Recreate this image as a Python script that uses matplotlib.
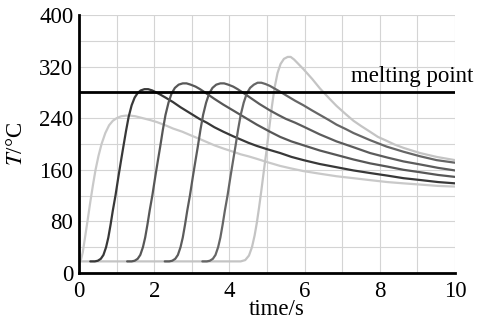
import numpy as np
import matplotlib
matplotlib.use("Agg")
import matplotlib.pyplot as plt

plt.rcParams['font.family'] = ['Liberation Serif', 'DejaVu Serif']
plt.rcParams['mathtext.fontset'] = 'stix'

# temperature curves (time in s, T in degC)
t1 = [0, 0.05, 0.1, 0.16, 0.23, 0.3, 0.37, 0.44, 0.52, 0.6, 0.7, 0.8, 0.9,
      1.0, 1.12, 1.25, 1.36, 1.5, 1.7, 1.9, 2.07, 2.3, 2.5, 2.75, 2.95, 3.2,
      3.4, 3.6, 3.84, 4.1, 4.3, 4.5, 4.73, 5.0, 5.35, 5.65, 5.97, 6.4, 6.85,
      7.3, 7.74, 8.2, 8.63, 9.1, 9.55, 10]
T1 = [18, 20, 32, 55, 82, 110, 136, 160, 182, 200, 217, 229, 236,
      240, 243, 244, 244, 243, 240, 237, 234, 229, 224, 219, 214, 208,
      203, 198, 193, 188, 184, 181, 177, 172, 166, 162, 158, 154, 150,
      147, 144, 141, 139, 137, 135, 134]

t2 = [0.3, 0.42, 0.5, 0.58, 0.65, 0.72, 0.78, 0.84, 0.9, 0.97, 1.05, 1.12,
      1.18, 1.25, 1.32, 1.4, 1.48, 1.56, 1.64, 1.74, 1.84, 1.95, 2.05, 2.15,
      2.3, 2.5, 2.7, 2.95, 3.2, 3.4, 3.6, 3.84, 4.1, 4.3, 4.5, 4.73, 5.0,
      5.35, 5.65, 5.97, 6.4, 6.85, 7.3, 7.74, 8.2, 8.63, 9.1, 9.55, 10]
T2 = [18, 18, 19, 22, 28, 40, 55, 75, 97, 120, 150, 175,
      196, 220, 242, 260, 272, 279, 283, 285, 285, 283, 280, 277,
      272, 265, 257, 248, 239, 233, 226, 219, 212, 207, 202, 197, 192,
      186, 180, 175, 169, 164, 159, 155, 151, 147, 144, 141, 139]

t3 = [1.28, 1.4, 1.48, 1.56, 1.63, 1.7, 1.76, 1.82, 1.88, 1.95, 2.03, 2.1,
      2.16, 2.23, 2.3, 2.38, 2.46, 2.55, 2.65, 2.76, 2.86, 2.97, 3.1, 3.22,
      3.4, 3.6, 3.84, 4.1, 4.3, 4.5, 4.73, 5.08, 5.35, 5.65, 5.97, 6.4,
      6.85, 7.3, 7.74, 8.2, 8.63, 9.1, 9.55, 10]
T3 = [18, 18, 19, 22, 28, 40, 55, 75, 97, 120, 150, 175,
      196, 222, 245, 264, 278, 287, 292, 294, 294, 292, 289, 285,
      278, 270, 261, 252, 245, 238, 230, 219, 211, 204, 198, 190,
      183, 176, 170, 165, 160, 156, 152, 149]

t4 = [2.28, 2.4, 2.48, 2.56, 2.63, 2.7, 2.76, 2.82, 2.88, 2.95, 3.03, 3.1,
      3.16, 3.23, 3.3, 3.38, 3.46, 3.55, 3.65, 3.76, 3.86, 3.97, 4.1, 4.22,
      4.4, 4.6, 4.8, 5.08, 5.3, 5.5, 5.75, 5.97, 6.4, 6.85, 7.3, 7.74, 8.2,
      8.63, 9.1, 9.55, 10]
T4 = [18, 18, 19, 22, 28, 40, 55, 75, 97, 120, 150, 175,
      196, 222, 245, 264, 278, 287, 292, 294, 294, 292, 289, 285,
      278, 270, 262, 252, 245, 239, 233, 227, 215, 204, 195, 186, 179,
      173, 168, 163, 159]

t5 = [3.28, 3.4, 3.48, 3.56, 3.63, 3.7, 3.76, 3.82, 3.88, 3.95, 4.03, 4.1,
      4.16, 4.23, 4.3, 4.38, 4.46, 4.55, 4.65, 4.75, 4.85, 4.96, 5.08, 5.2,
      5.35, 5.52, 5.75, 5.97, 6.2, 6.41, 6.65, 6.85, 7.1, 7.3, 7.5, 7.74,
      8.18, 8.63, 9.07, 9.51, 10]
T5 = [18, 18, 19, 22, 28, 40, 55, 75, 97, 120, 150, 175,
      196, 222, 245, 264, 278, 287, 292, 295, 295, 293, 290, 286,
      281, 275, 267, 260, 252, 245, 237, 230, 223, 217, 212, 206,
      196, 188, 181, 175, 171]

t6 = [0, 4.3, 4.42, 4.52, 4.6, 4.67, 4.73, 4.79, 4.85, 4.92, 4.99, 5.06,
      5.13, 5.2, 5.28, 5.36, 5.45, 5.55, 5.63, 5.72, 5.82, 5.97, 6.2, 6.41,
      6.65, 6.85, 7.1, 7.3, 7.5, 7.74, 7.95, 8.18, 8.4, 8.63, 9.07, 9.51, 10]
T6 = [18, 18, 20, 27, 40, 58, 78, 102, 128, 160, 191, 225,
      258, 287, 310, 324, 332, 335, 335, 331, 325, 316, 301, 286,
      271, 259, 246, 236, 228, 219, 211, 205, 199, 194, 186, 180, 175]

melting_point = 280

curves = [(t1, T1, '#c9c9c9'), (t6, T6, '#c4c4c4'),
          (t2, T2, '#383838'), (t3, T3, '#575757'),
          (t4, T4, '#5c5c5c'), (t5, T5, '#666666')]

fig = plt.figure(figsize=(4.82, 3.2), dpi=100)
ax = fig.add_axes([79/482, 1 - 273/320, 376/482, 258/320])

for t, T, c in curves:
    ax.plot(t, T, color=c, lw=1.6, solid_capstyle='round',
            solid_joinstyle='round')

ax.axhline(melting_point, color='black', lw=2)
ax.text(7.23, 296, 'melting point', fontsize=16.5, ha='left', va='baseline')

ax.set_xlim(0, 10)
ax.set_ylim(0, 400)
ax.set_xticks(np.arange(0, 11, 2))
ax.set_yticks(np.arange(0, 401, 80))
ax.set_xticks(np.arange(0, 11, 1), minor=True)
ax.set_yticks(np.arange(0, 401, 40), minor=True)
ax.grid(which='both', color='#d4d4d4', lw=0.8)
ax.set_axisbelow(True)
ax.tick_params(which='both', length=0, labelsize=16.5)
ax.tick_params(axis='y', pad=4)
ax.tick_params(axis='x', pad=6)

for s in ['top', 'right']:
    ax.spines[s].set_visible(False)
for s in ['left', 'bottom']:
    ax.spines[s].set_linewidth(2)

ax.set_ylabel('$T$/°C', fontsize=16.5, labelpad=9)
ax.set_xlabel('time/s', fontsize=16.5)
ax.xaxis.set_label_coords(0.527, -0.1)

fig.savefig('out.png', dpi=100)
